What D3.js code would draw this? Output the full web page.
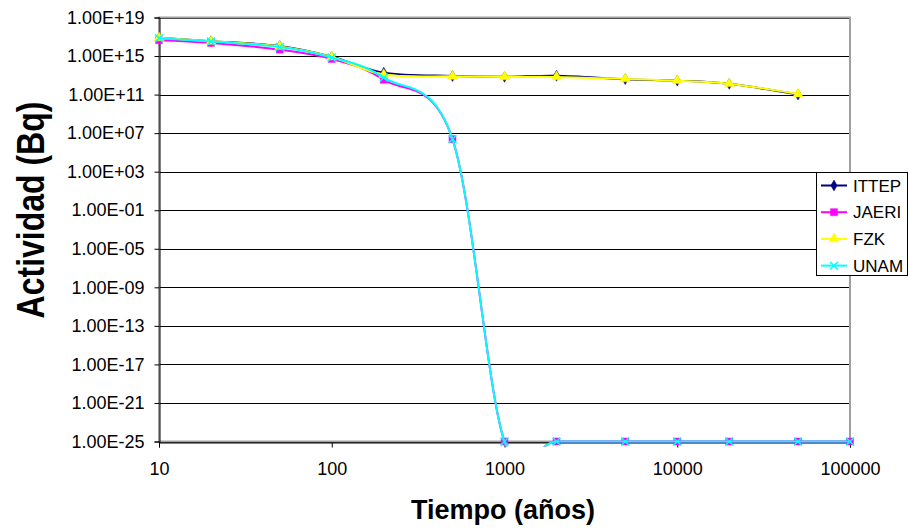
<!DOCTYPE html>
<html>
<head>
  <title>Actividad vs Tiempo</title>
  <script src="https://d3js.org/d3.v7.min.js"></script>
  <style>
    body { margin: 0; background: #fff; }
    text { font-family: Arial, "Liberation Sans", sans-serif; fill: #000; }
  </style>
</head>
<body>
  <svg id="chart" width="909" height="529"></svg>
  <script type="text/javascript">
    /* Data: years and activity in Bq per lab */
    var years = [10, 20, 50, 100, 200, 500, 1000, 2000, 5000, 10000, 20000, 50000, 100000];

    var ittep = [8.0e16, 3.5e16, 1.1e16, 8.5e14, 1.9e13, 8.5e12, 7.0e12, 9.0e12, 4.0e12, 2.8e12, 1.3e12, 1.0e11];
    var jaeri = [4.4e16, 2.3e16, 4.7e15, 5.0e14, 3.5e12, 2.4e6, 1e-25, 1e-25, 1e-25, 1e-25, 1e-25, 1e-25, 1e-25];
    var fzk   = [7.8e16, 3.4e16, 1.0e16, 8.1e14, 1.2e13, 7.8e12, 6.8e12, 6.8e12, 4.2e12, 2.8e12, 1.35e12, 1.15e11];
    var unam  = [7.1e16, 3.2e16, 8.9e15, 7.1e14, 5.8e12, 2.4e6, 1e-25, 1e-25, 1e-25, 1e-25, 1e-25, 1e-25, 1e-25];

    var seriesNames = ["ITTEP", "JAERI", "FZK", "UNAM"];
    var seriesValues = [ittep, jaeri, fzk, unam];
    var seriesColors = ["#000080", "#ff00ff", "#ffff00", "#00ffff"];

    var xTicks = [10, 100, 1000, 10000, 100000];
    var yTicks = [1e-25, 1e-21, 1e-17, 1e-13, 1e-9, 1e-5, 1e-1, 1e3, 1e7, 1e11, 1e15, 1e19];

    var svg = d3.select("#chart");

    // note: "top" would clash with window.top
    var plotL = 159, plotR = 850, plotT = 17.5, plotB = 441.5;

    var x = d3.scaleLog().domain([10, 100000]).range([plotL, plotR]);
    var y = d3.scaleLog().domain([1e-25, 1e19]).range([plotB, plotT]);

    // Excel-like 1.00E+19 labels
    function sci(v) {
      var e = Math.round(Math.log10(v));
      var s = e < 0 ? "-" : "+";
      var a = Math.abs(e);
      return "1.00E" + s + (a < 10 ? "0" + a : a);
    }

    /* gridlines */
    svg.append("g")
       .selectAll("line")
       .data(yTicks)
       .enter().append("line")
       .attr("x1", plotL).attr("x2", plotR)
       .attr("y1", function(d) { return Math.round(y(d)) + 0.5; })
       .attr("y2", function(d) { return Math.round(y(d)) + 0.5; })
       .style("stroke", "#000")
       .style("stroke-width", 1);

    /* plot area border (gray, Excel default) */
    svg.append("rect")
       .attr("x", plotL).attr("y", plotT)
       .attr("width", plotR - plotL).attr("height", plotB - plotT)
       .style("fill", "none")
       .style("stroke", "#a0a0a0")
       .style("stroke-width", 2);

    /* axes */
    var yAxis = d3.axisLeft(y).tickValues(yTicks).tickFormat(sci).tickSize(5).tickPadding(10);
    var gy = svg.append("g")
                .attr("transform", "translate(" + (plotL + 0.5) + ",0)")
                .call(yAxis);
    gy.selectAll("text").style("font-size", "18px");

    var xAxis = d3.axisBottom(x).tickValues(xTicks).tickFormat(d3.format("d")).tickSize(5).tickPadding(15);
    var gx = svg.append("g")
                .attr("transform", "translate(0," + (Math.round(plotB) + 0.5) + ")")
                .call(xAxis);
    gx.selectAll("text").style("font-size", "18px");

    svg.selectAll(".domain").style("stroke", "#000");
    svg.selectAll(".tick line").style("stroke", "#000");

    /* clip lines to plot area (a little slack at the bottom, like Excel) */
    svg.append("clipPath").attr("id", "plotclip")
       .append("rect")
       .attr("x", plotL).attr("y", plotT - 2)
       .attr("width", plotR - plotL + 2).attr("height", plotB - plotT + 7);

    var line = d3.line()
                 .x(function(d) { return x(d[0]); })
                 .y(function(d) { return y(d[1]); })
                 .curve(d3.curveCardinal.tension(0));

    var symbols = [
      d3.symbol().type(d3.symbolDiamond).size(34),
      d3.symbol().type(d3.symbolSquare).size(49),
      d3.symbol().type(d3.symbolTriangle).size(44),
      d3.symbol().type(d3.symbolX).size(42)
    ];

    function drawMarker(g, i, px, py) {
      var m = g.append("path")
               .attr("d", symbols[i]())
               .attr("transform", "translate(" + px + "," + py + ")");
      if (i === 3) {
        m.style("fill", "none").style("stroke", seriesColors[i]).style("stroke-width", 1.5);
      } else {
        m.style("fill", seriesColors[i]).style("stroke", seriesColors[i]).style("stroke-width", 0.5);
      }
    }

    seriesValues.forEach(function(vals, i) {
      var pts = vals.map(function(v, j) { return [years[j], v]; });
      var g = svg.append("g").attr("class", "series");
      g.append("path")
       .datum(pts)
       .attr("clip-path", "url(#plotclip)")
       .attr("d", line)
       .style("fill", "none")
       .style("stroke", seriesColors[i])
       .style("stroke-width", 2);
      pts.forEach(function(p) {
        drawMarker(g, i, x(p[0]), y(p[1]));
      });
    });

    /* axis titles */
    svg.append("text")
       .attr("x", 503)
       .attr("y", 519)
       .attr("text-anchor", "middle")
       .style("font-size", "27px")
       .style("font-weight", "bold")
       .text("Tiempo (años)");

    // the reference's vertical title is drawn taller than the horizontal one
    svg.append("text")
       .attr("transform", "translate(44,210) rotate(-90) scale(1,1.2)")
       .attr("text-anchor", "middle")
       .style("font-size", "32px")
       .style("font-weight", "bold")
       .text("Actividad (Bq)");

    /* legend */
    var legend = svg.append("g");
    legend.append("rect")
          .attr("x", 816.5).attr("y", 172.5)
          .attr("width", 91).attr("height", 103)
          .style("fill", "#fff")
          .style("stroke", "#000")
          .style("stroke-width", 1);

    seriesNames.forEach(function(name, i) {
      var cy = 185.5 + i * 26.7;
      legend.append("line")
            .attr("x1", 821).attr("x2", 847)
            .attr("y1", cy).attr("y2", cy)
            .style("stroke", seriesColors[i])
            .style("stroke-width", 2);
      drawMarker(legend, i, 834, cy);
      legend.append("text")
            .attr("x", 853)
            .attr("y", cy + 6)
            .style("font-size", "17px")
            .text(name);
    });
  </script>
</body>
</html>
